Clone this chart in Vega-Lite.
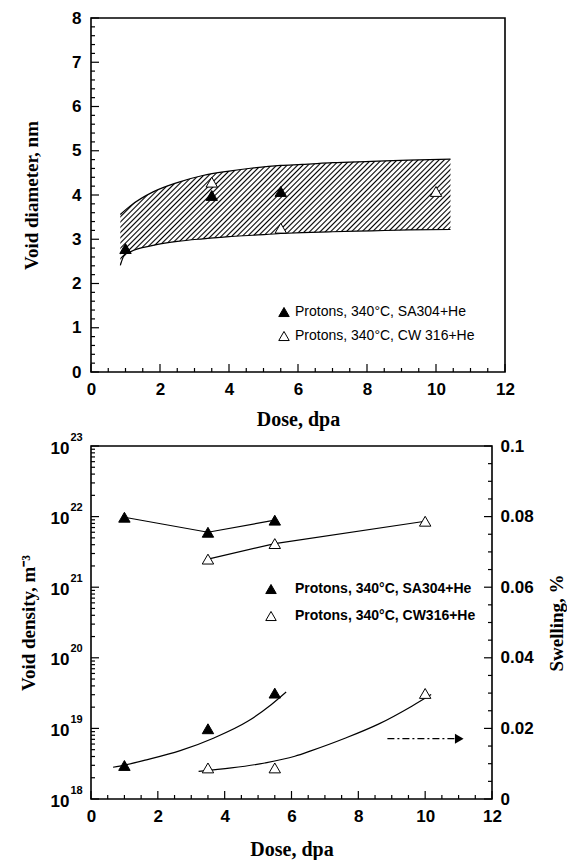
{
  "$schema": "https://vega.github.io/schema/vega-lite/v6.json",
  "background": "white",
  "padding": {"left": 18, "top": 8, "right": 0, "bottom": 0},
  "columns": 1,
  "spacing": 0,
  "resolve": {"scale": {"fill": "independent"}, "legend": {"fill": "independent"}},
  "config": {
    "view": {"stroke": "black", "strokeWidth": 1.6},
    "axis": {
      "grid": false, "domain": false, "ticks": false,
      "labelColor": "black", "labelFont": "Liberation Sans", "labelFontWeight": "bold", "labelFontSize": 17,
      "labelOverlap": false, "labelFlush": false,
      "titleColor": "black", "titleFont": "Liberation Serif", "titleFontWeight": "bold", "titleFontSize": 19
    }
  },
  "datasets": {
    "band": [
      {"dose": 0.85, "lower": 2.41, "upper": 3.56},
      {"dose": 0.95, "lower": 2.62, "upper": 3.63},
      {"dose": 1.15, "lower": 2.72, "upper": 3.76},
      {"dose": 1.8, "lower": 2.86, "upper": 4.07},
      {"dose": 2.5, "lower": 2.95, "upper": 4.28},
      {"dose": 3.24, "lower": 3.01, "upper": 4.44},
      {"dose": 4.0, "lower": 3.06, "upper": 4.54},
      {"dose": 4.68, "lower": 3.09, "upper": 4.61},
      {"dose": 5.5, "lower": 3.13, "upper": 4.67},
      {"dose": 6.12, "lower": 3.15, "upper": 4.69},
      {"dose": 7.0, "lower": 3.17, "upper": 4.73},
      {"dose": 8.13, "lower": 3.19, "upper": 4.76},
      {"dose": 9.2, "lower": 3.21, "upper": 4.79},
      {"dose": 10.42, "lower": 3.22, "upper": 4.81}
    ],
    "diameter": [
      {"dose": 1.0, "diameter": 2.79, "series": "Protons, 340°C, SA304+He"},
      {"dose": 3.5, "diameter": 3.99, "series": "Protons, 340°C, SA304+He"},
      {"dose": 5.5, "diameter": 4.08, "series": "Protons, 340°C, SA304+He"},
      {"dose": 3.5, "diameter": 4.29, "series": "Protons, 340°C, CW 316+He"},
      {"dose": 5.5, "diameter": 3.25, "series": "Protons, 340°C, CW 316+He"},
      {"dose": 10.0, "diameter": 4.08, "series": "Protons, 340°C, CW 316+He"}
    ],
    "density": [
      {"dose": 1.0, "density": 9.8e21, "series": "Protons, 340°C, SA304+He"},
      {"dose": 3.5, "density": 6.0e21, "series": "Protons, 340°C, SA304+He"},
      {"dose": 5.5, "density": 8.9e21, "series": "Protons, 340°C, SA304+He"},
      {"dose": 3.5, "density": 2.5e21, "series": "Protons, 340°C, CW316+He"},
      {"dose": 5.5, "density": 4.15e21, "series": "Protons, 340°C, CW316+He"},
      {"dose": 10.0, "density": 8.6e21, "series": "Protons, 340°C, CW316+He"}
    ],
    "swelling": [
      {"dose": 1.0, "swelling": 0.0095, "series": "Protons, 340°C, SA304+He"},
      {"dose": 3.5, "swelling": 0.0199, "series": "Protons, 340°C, SA304+He"},
      {"dose": 5.5, "swelling": 0.030, "series": "Protons, 340°C, SA304+He"},
      {"dose": 3.5, "swelling": 0.0088, "series": "Protons, 340°C, CW316+He"},
      {"dose": 5.5, "swelling": 0.0088, "series": "Protons, 340°C, CW316+He"},
      {"dose": 10.0, "swelling": 0.0299, "series": "Protons, 340°C, CW316+He"}
    ],
    "swellfit": [
      {"dose": 0.66, "swelling": 0.0090, "series": "SA304 fit"},
      {"dose": 1.0, "swelling": 0.0096, "series": "SA304 fit"},
      {"dose": 1.66, "swelling": 0.0111, "series": "SA304 fit"},
      {"dose": 2.67, "swelling": 0.0137, "series": "SA304 fit"},
      {"dose": 3.68, "swelling": 0.0173, "series": "SA304 fit"},
      {"dose": 4.69, "swelling": 0.0220, "series": "SA304 fit"},
      {"dose": 5.39, "swelling": 0.0267, "series": "SA304 fit"},
      {"dose": 5.84, "swelling": 0.0303, "series": "SA304 fit"},
      {"dose": 3.22, "swelling": 0.0078, "series": "CW316 fit"},
      {"dose": 4.2, "swelling": 0.0088, "series": "CW316 fit"},
      {"dose": 5.2, "swelling": 0.0102, "series": "CW316 fit"},
      {"dose": 6.1, "swelling": 0.0121, "series": "CW316 fit"},
      {"dose": 6.6, "swelling": 0.0137, "series": "CW316 fit"},
      {"dose": 7.6, "swelling": 0.0172, "series": "CW316 fit"},
      {"dose": 8.6, "swelling": 0.0212, "series": "CW316 fit"},
      {"dose": 9.6, "swelling": 0.0263, "series": "CW316 fit"},
      {"dose": 10.18, "swelling": 0.0296, "series": "CW316 fit"}
    ],
    "arrow": [
      {"dose": 8.87, "swelling": 0.0171},
      {"dose": 10.9, "swelling": 0.0171}
    ],
    "arrowhead": [
      {"dose": 11.02, "swelling": 0.0171}
    ],
    "xmajA": [{"v":0,"base":0},{"v":2,"base":0},{"v":4,"base":0},{"v":6,"base":0},{"v":8,"base":0},{"v":10,"base":0},{"v":12,"base":0}],
    "xminA": [{"v":0.5,"base":0},{"v":1,"base":0},{"v":1.5,"base":0},{"v":2.5,"base":0},{"v":3,"base":0},{"v":3.5,"base":0},{"v":4.5,"base":0},{"v":5,"base":0},{"v":5.5,"base":0},{"v":6.5,"base":0},{"v":7,"base":0},{"v":7.5,"base":0},{"v":8.5,"base":0},{"v":9,"base":0},{"v":9.5,"base":0},{"v":10.5,"base":0},{"v":11,"base":0},{"v":11.5,"base":0}],
    "ymajA": [{"v":0,"base":0},{"v":1,"base":0},{"v":2,"base":0},{"v":3,"base":0},{"v":4,"base":0},{"v":5,"base":0},{"v":6,"base":0},{"v":7,"base":0},{"v":8,"base":0}],
    "yminA": [{"v":0.2,"base":0},{"v":0.4,"base":0},{"v":0.6,"base":0},{"v":0.8,"base":0},{"v":1.2,"base":0},{"v":1.4,"base":0},{"v":1.6,"base":0},{"v":1.8,"base":0},{"v":2.2,"base":0},{"v":2.4,"base":0},{"v":2.6,"base":0},{"v":2.8,"base":0},{"v":3.2,"base":0},{"v":3.4,"base":0},{"v":3.6,"base":0},{"v":3.8,"base":0},{"v":4.2,"base":0},{"v":4.4,"base":0},{"v":4.6,"base":0},{"v":4.8,"base":0},{"v":5.2,"base":0},{"v":5.4,"base":0},{"v":5.6,"base":0},{"v":5.8,"base":0},{"v":6.2,"base":0},{"v":6.4,"base":0},{"v":6.6,"base":0},{"v":6.8,"base":0},{"v":7.2,"base":0},{"v":7.4,"base":0},{"v":7.6,"base":0},{"v":7.8,"base":0}],
    "xmajB": [{"v":0,"base":1e18},{"v":2,"base":1e18},{"v":4,"base":1e18},{"v":6,"base":1e18},{"v":8,"base":1e18},{"v":10,"base":1e18},{"v":12,"base":1e18}],
    "xminB": [{"v":0.5,"base":1e18},{"v":1,"base":1e18},{"v":1.5,"base":1e18},{"v":2.5,"base":1e18},{"v":3,"base":1e18},{"v":3.5,"base":1e18},{"v":4.5,"base":1e18},{"v":5,"base":1e18},{"v":5.5,"base":1e18},{"v":6.5,"base":1e18},{"v":7,"base":1e18},{"v":7.5,"base":1e18},{"v":8.5,"base":1e18},{"v":9,"base":1e18},{"v":9.5,"base":1e18},{"v":10.5,"base":1e18},{"v":11,"base":1e18},{"v":11.5,"base":1e18}],
    "ymajB": [{"v":1e18,"base":0},{"v":1e19,"base":0},{"v":1e20,"base":0},{"v":1e21,"base":0},{"v":1e22,"base":0},{"v":1e23,"base":0}],
    "yminB": [{"v":2e18,"base":0},{"v":3e18,"base":0},{"v":4e18,"base":0},{"v":5e18,"base":0},{"v":6e18,"base":0},{"v":7e18,"base":0},{"v":8e18,"base":0},{"v":9e18,"base":0},{"v":2e19,"base":0},{"v":3e19,"base":0},{"v":4e19,"base":0},{"v":5e19,"base":0},{"v":6e19,"base":0},{"v":7e19,"base":0},{"v":8e19,"base":0},{"v":9e19,"base":0},{"v":2e20,"base":0},{"v":3e20,"base":0},{"v":4e20,"base":0},{"v":5e20,"base":0},{"v":6e20,"base":0},{"v":7e20,"base":0},{"v":8e20,"base":0},{"v":9e20,"base":0},{"v":2e21,"base":0},{"v":3e21,"base":0},{"v":4e21,"base":0},{"v":5e21,"base":0},{"v":6e21,"base":0},{"v":7e21,"base":0},{"v":8e21,"base":0},{"v":9e21,"base":0},{"v":2e22,"base":0},{"v":3e22,"base":0},{"v":4e22,"base":0},{"v":5e22,"base":0},{"v":6e22,"base":0},{"v":7e22,"base":0},{"v":8e22,"base":0},{"v":9e22,"base":0}],
    "rmaj": [{"v":0,"base":12},{"v":0.02,"base":12},{"v":0.04,"base":12},{"v":0.06,"base":12},{"v":0.08,"base":12},{"v":0.1,"base":12}],
    "rmin": [{"v":0.005,"base":12},{"v":0.01,"base":12},{"v":0.015,"base":12},{"v":0.025,"base":12},{"v":0.03,"base":12},{"v":0.035,"base":12},{"v":0.045,"base":12},{"v":0.05,"base":12},{"v":0.055,"base":12},{"v":0.065,"base":12},{"v":0.07,"base":12},{"v":0.075,"base":12},{"v":0.085,"base":12},{"v":0.09,"base":12},{"v":0.095,"base":12}]
  },
  "concat": [
    {
      "width": 414,
      "height": 354,
      "resolve": {"axis": {"x": "independent", "y": "independent"}},
      "layer": [
        {
          "data": {"name": "band"},
          "mark": {
            "type": "area", "interpolate": "monotone",
            "fill": {
              "gradient": "linear", "x1": 0, "y1": 0, "x2": 1.198, "y2": 0.385,
              "stops": [
                {"offset":0,"color":"#000"},{"offset":0.0035,"color":"#fff"},{"offset":0.0085,"color":"#fff"},
                {"offset":0.012,"color":"#000"},{"offset":0.0155,"color":"#fff"},{"offset":0.0205,"color":"#fff"},
                {"offset":0.024,"color":"#000"},{"offset":0.0275,"color":"#fff"},{"offset":0.0325,"color":"#fff"},
                {"offset":0.036,"color":"#000"},{"offset":0.0395,"color":"#fff"},{"offset":0.0445,"color":"#fff"},
                {"offset":0.048,"color":"#000"},{"offset":0.0515,"color":"#fff"},{"offset":0.0565,"color":"#fff"},
                {"offset":0.06,"color":"#000"},{"offset":0.0635,"color":"#fff"},{"offset":0.0685,"color":"#fff"},
                {"offset":0.072,"color":"#000"},{"offset":0.0755,"color":"#fff"},{"offset":0.0805,"color":"#fff"},
                {"offset":0.084,"color":"#000"},{"offset":0.0875,"color":"#fff"},{"offset":0.0925,"color":"#fff"},
                {"offset":0.096,"color":"#000"},{"offset":0.0995,"color":"#fff"},{"offset":0.1045,"color":"#fff"},
                {"offset":0.108,"color":"#000"},{"offset":0.1115,"color":"#fff"},{"offset":0.1165,"color":"#fff"},
                {"offset":0.12,"color":"#000"},{"offset":0.1235,"color":"#fff"},{"offset":0.1285,"color":"#fff"},
                {"offset":0.132,"color":"#000"},{"offset":0.1355,"color":"#fff"},{"offset":0.1405,"color":"#fff"},
                {"offset":0.144,"color":"#000"},{"offset":0.1475,"color":"#fff"},{"offset":0.1525,"color":"#fff"},
                {"offset":0.156,"color":"#000"},{"offset":0.1595,"color":"#fff"},{"offset":0.1645,"color":"#fff"},
                {"offset":0.168,"color":"#000"},{"offset":0.1715,"color":"#fff"},{"offset":0.1765,"color":"#fff"},
                {"offset":0.18,"color":"#000"},{"offset":0.1835,"color":"#fff"},{"offset":0.1885,"color":"#fff"},
                {"offset":0.192,"color":"#000"},{"offset":0.1955,"color":"#fff"},{"offset":0.2005,"color":"#fff"},
                {"offset":0.204,"color":"#000"},{"offset":0.2075,"color":"#fff"},{"offset":0.2125,"color":"#fff"},
                {"offset":0.216,"color":"#000"},{"offset":0.2195,"color":"#fff"},{"offset":0.2245,"color":"#fff"},
                {"offset":0.228,"color":"#000"},{"offset":0.2315,"color":"#fff"},{"offset":0.2365,"color":"#fff"},
                {"offset":0.24,"color":"#000"},{"offset":0.2435,"color":"#fff"},{"offset":0.2485,"color":"#fff"},
                {"offset":0.252,"color":"#000"},{"offset":0.2555,"color":"#fff"},{"offset":0.2605,"color":"#fff"},
                {"offset":0.264,"color":"#000"},{"offset":0.2675,"color":"#fff"},{"offset":0.2725,"color":"#fff"},
                {"offset":0.276,"color":"#000"},{"offset":0.2795,"color":"#fff"},{"offset":0.2845,"color":"#fff"},
                {"offset":0.288,"color":"#000"},{"offset":0.2915,"color":"#fff"},{"offset":0.2965,"color":"#fff"},
                {"offset":0.3,"color":"#000"},{"offset":0.3035,"color":"#fff"},{"offset":0.3085,"color":"#fff"},
                {"offset":0.312,"color":"#000"},{"offset":0.3155,"color":"#fff"},{"offset":0.3205,"color":"#fff"},
                {"offset":0.324,"color":"#000"},{"offset":0.3275,"color":"#fff"},{"offset":0.3325,"color":"#fff"},
                {"offset":0.336,"color":"#000"},{"offset":0.3395,"color":"#fff"},{"offset":0.3445,"color":"#fff"},
                {"offset":0.348,"color":"#000"},{"offset":0.3515,"color":"#fff"},{"offset":0.3565,"color":"#fff"},
                {"offset":0.36,"color":"#000"},{"offset":0.3635,"color":"#fff"},{"offset":0.3685,"color":"#fff"},
                {"offset":0.372,"color":"#000"},{"offset":0.3755,"color":"#fff"},{"offset":0.3805,"color":"#fff"},
                {"offset":0.384,"color":"#000"},{"offset":0.3875,"color":"#fff"},{"offset":0.3925,"color":"#fff"},
                {"offset":0.396,"color":"#000"},{"offset":0.3995,"color":"#fff"},{"offset":0.4045,"color":"#fff"},
                {"offset":0.408,"color":"#000"},{"offset":0.4115,"color":"#fff"},{"offset":0.4165,"color":"#fff"},
                {"offset":0.42,"color":"#000"},{"offset":0.4235,"color":"#fff"},{"offset":0.4285,"color":"#fff"},
                {"offset":0.432,"color":"#000"},{"offset":0.4355,"color":"#fff"},{"offset":0.4405,"color":"#fff"},
                {"offset":0.444,"color":"#000"},{"offset":0.4475,"color":"#fff"},{"offset":0.4525,"color":"#fff"},
                {"offset":0.456,"color":"#000"},{"offset":0.4595,"color":"#fff"},{"offset":0.4645,"color":"#fff"},
                {"offset":0.468,"color":"#000"},{"offset":0.4715,"color":"#fff"},{"offset":0.4765,"color":"#fff"},
                {"offset":0.48,"color":"#000"},{"offset":0.4835,"color":"#fff"},{"offset":0.4885,"color":"#fff"},
                {"offset":0.492,"color":"#000"},{"offset":0.4955,"color":"#fff"},{"offset":0.5005,"color":"#fff"},
                {"offset":0.504,"color":"#000"},{"offset":0.5075,"color":"#fff"},{"offset":0.5125,"color":"#fff"},
                {"offset":0.516,"color":"#000"},{"offset":0.5195,"color":"#fff"},{"offset":0.5245,"color":"#fff"},
                {"offset":0.528,"color":"#000"},{"offset":0.5315,"color":"#fff"},{"offset":0.5365,"color":"#fff"},
                {"offset":0.54,"color":"#000"},{"offset":0.5435,"color":"#fff"},{"offset":0.5485,"color":"#fff"},
                {"offset":0.552,"color":"#000"},{"offset":0.5555,"color":"#fff"},{"offset":0.5605,"color":"#fff"},
                {"offset":0.564,"color":"#000"},{"offset":0.5675,"color":"#fff"},{"offset":0.5725,"color":"#fff"},
                {"offset":0.576,"color":"#000"},{"offset":0.5795,"color":"#fff"},{"offset":0.5845,"color":"#fff"},
                {"offset":0.588,"color":"#000"},{"offset":0.5915,"color":"#fff"},{"offset":0.5965,"color":"#fff"},
                {"offset":0.6,"color":"#000"},{"offset":0.6035,"color":"#fff"},{"offset":0.6085,"color":"#fff"},
                {"offset":0.612,"color":"#000"},{"offset":0.6155,"color":"#fff"},{"offset":0.6205,"color":"#fff"},
                {"offset":0.624,"color":"#000"},{"offset":0.6275,"color":"#fff"},{"offset":0.6325,"color":"#fff"},
                {"offset":0.636,"color":"#000"},{"offset":0.6395,"color":"#fff"},{"offset":0.6445,"color":"#fff"},
                {"offset":0.648,"color":"#000"},{"offset":0.6515,"color":"#fff"},{"offset":0.6565,"color":"#fff"},
                {"offset":0.66,"color":"#000"},{"offset":0.6635,"color":"#fff"},{"offset":0.6685,"color":"#fff"},
                {"offset":0.672,"color":"#000"},{"offset":0.6755,"color":"#fff"},{"offset":0.6805,"color":"#fff"},
                {"offset":0.684,"color":"#000"},{"offset":0.6875,"color":"#fff"},{"offset":0.6925,"color":"#fff"},
                {"offset":0.696,"color":"#000"},{"offset":0.6995,"color":"#fff"},{"offset":0.7045,"color":"#fff"},
                {"offset":0.708,"color":"#000"},{"offset":0.7115,"color":"#fff"},{"offset":0.7165,"color":"#fff"},
                {"offset":0.72,"color":"#000"},{"offset":0.7235,"color":"#fff"},{"offset":0.7285,"color":"#fff"},
                {"offset":0.732,"color":"#000"},{"offset":0.7355,"color":"#fff"},{"offset":0.7405,"color":"#fff"},
                {"offset":0.744,"color":"#000"},{"offset":0.7475,"color":"#fff"},{"offset":0.7525,"color":"#fff"},
                {"offset":0.756,"color":"#000"},{"offset":0.7595,"color":"#fff"},{"offset":0.7645,"color":"#fff"},
                {"offset":0.768,"color":"#000"},{"offset":0.7715,"color":"#fff"},{"offset":0.7765,"color":"#fff"},
                {"offset":0.78,"color":"#000"},{"offset":0.7835,"color":"#fff"},{"offset":0.7885,"color":"#fff"},
                {"offset":0.792,"color":"#000"},{"offset":0.7955,"color":"#fff"},{"offset":0.8005,"color":"#fff"},
                {"offset":0.804,"color":"#000"},{"offset":0.8075,"color":"#fff"},{"offset":0.8125,"color":"#fff"},
                {"offset":0.816,"color":"#000"},{"offset":0.8195,"color":"#fff"},{"offset":0.8245,"color":"#fff"},
                {"offset":0.828,"color":"#000"},{"offset":0.8315,"color":"#fff"},{"offset":0.8365,"color":"#fff"},
                {"offset":0.84,"color":"#000"},{"offset":0.8435,"color":"#fff"},{"offset":0.8485,"color":"#fff"},
                {"offset":0.852,"color":"#000"},{"offset":0.8555,"color":"#fff"},{"offset":0.8605,"color":"#fff"},
                {"offset":0.864,"color":"#000"},{"offset":0.8675,"color":"#fff"},{"offset":0.8725,"color":"#fff"},
                {"offset":0.876,"color":"#000"},{"offset":0.8795,"color":"#fff"},{"offset":0.8845,"color":"#fff"},
                {"offset":0.888,"color":"#000"},{"offset":0.8915,"color":"#fff"},{"offset":0.8965,"color":"#fff"},
                {"offset":0.9,"color":"#000"},{"offset":0.9035,"color":"#fff"},{"offset":0.9085,"color":"#fff"},
                {"offset":0.912,"color":"#000"},{"offset":0.9155,"color":"#fff"},{"offset":0.9205,"color":"#fff"},
                {"offset":0.924,"color":"#000"},{"offset":0.9275,"color":"#fff"},{"offset":0.9325,"color":"#fff"},
                {"offset":0.936,"color":"#000"},{"offset":0.9395,"color":"#fff"},{"offset":0.9445,"color":"#fff"},
                {"offset":0.948,"color":"#000"},{"offset":0.9515,"color":"#fff"},{"offset":0.9565,"color":"#fff"},
                {"offset":0.96,"color":"#000"},{"offset":0.9635,"color":"#fff"},{"offset":0.9685,"color":"#fff"},
                {"offset":0.972,"color":"#000"},{"offset":0.9755,"color":"#fff"},{"offset":0.9805,"color":"#fff"},
                {"offset":0.984,"color":"#000"},{"offset":0.9875,"color":"#fff"},{"offset":0.9925,"color":"#fff"},
                {"offset":0.996,"color":"#000"},{"offset":0.9995,"color":"#fff"}
              ]
            }
          },
          "encoding": {
            "x": {
              "field": "dose", "type": "quantitative", "title": "Dose, dpa",
              "scale": {"domain": [0, 12], "nice": false, "zero": false},
              "axis": {"orient": "bottom", "values": [0,2,4,6,8,10,12], "labelPadding": 9, "titlePadding": 12, "titleFontSize": 20}
            },
            "y": {
              "field": "lower", "type": "quantitative", "title": "Void diameter, nm",
              "scale": {"domain": [0, 8], "nice": false},
              "axis": {"orient": "left", "values": [0,1,2,3,4,5,6,7,8], "labelPadding": 10, "titlePadding": 30}
            },
            "y2": {"field": "upper"}
          }
        },
        {
          "data": {"name": "band"},
          "mark": {"type": "line", "interpolate": "monotone", "color": "black", "strokeWidth": 1.2},
          "encoding": {
            "x": {"field": "dose", "type": "quantitative", "axis": null},
            "y": {"field": "upper", "type": "quantitative", "axis": null}
          }
        },
        {
          "data": {"name": "band"},
          "mark": {"type": "line", "interpolate": "monotone", "color": "black", "strokeWidth": 1.2},
          "encoding": {
            "x": {"field": "dose", "type": "quantitative", "axis": null},
            "y": {"field": "lower", "type": "quantitative", "axis": null}
          }
        },
        {
          "data": {"name": "xmajA"},
          "mark": {"type": "point", "shape": "stroke", "angle": 90, "filled": false, "stroke": "black", "strokeWidth": 1.2, "size": 64, "opacity": 1, "yOffset": -4},
          "encoding": {
            "x": {"field": "v", "type": "quantitative", "axis": null},
            "y": {"field": "base", "type": "quantitative", "axis": null}
          }
        },
        {
          "data": {"name": "xminA"},
          "mark": {"type": "point", "shape": "stroke", "angle": 90, "filled": false, "stroke": "black", "strokeWidth": 1.2, "size": 16, "opacity": 1, "yOffset": -2},
          "encoding": {
            "x": {"field": "v", "type": "quantitative", "axis": null},
            "y": {"field": "base", "type": "quantitative", "axis": null}
          }
        },
        {
          "data": {"name": "ymajA"},
          "mark": {"type": "point", "shape": "stroke", "filled": false, "stroke": "black", "strokeWidth": 1.2, "size": 64, "opacity": 1, "xOffset": 4},
          "encoding": {
            "y": {"field": "v", "type": "quantitative", "axis": null},
            "x": {"field": "base", "type": "quantitative", "axis": null}
          }
        },
        {
          "data": {"name": "yminA"},
          "mark": {"type": "point", "shape": "stroke", "filled": false, "stroke": "black", "strokeWidth": 1.2, "size": 16, "opacity": 1, "xOffset": 2},
          "encoding": {
            "y": {"field": "v", "type": "quantitative", "axis": null},
            "x": {"field": "base", "type": "quantitative", "axis": null}
          }
        },
        {
          "data": {"name": "diameter"},
          "mark": {"type": "point", "shape": "triangle-up", "filled": true, "stroke": "black", "strokeWidth": 1, "size": 130, "opacity": 1},
          "encoding": {
            "x": {"field": "dose", "type": "quantitative", "axis": null},
            "y": {"field": "diameter", "type": "quantitative", "axis": null},
            "fill": {
              "field": "series", "type": "nominal",
              "scale": {"domain": ["Protons, 340°C, SA304+He", "Protons, 340°C, CW 316+He"], "range": ["black", "white"]},
              "legend": {
                "orient": "none", "legendX": 186, "legendY": 287, "title": null, "padding": 0,
                "symbolType": "triangle-up", "symbolSize": 110, "symbolStrokeColor": "black", "symbolStrokeWidth": 1,
                "labelFont": "Liberation Sans", "labelFontSize": 14, "labelFontWeight": "normal", "labelColor": "black",
                "labelOffset": 4, "rowPadding": 10, "labelLimit": 300
              }
            }
          }
        },
        {
          "mark": {"type": "text", "font": "Liberation Serif", "fontWeight": "bold", "fontSize": 20, "color": "black"},
          "encoding": {
            "x": {"datum": 1.06, "type": "quantitative", "axis": null},
            "y": {"datum": 7.41, "type": "quantitative", "axis": null},
            "text": {"value": "(a)"}
          }
        }
      ]
    },
    {
      "width": 401,
      "height": 353,
      "resolve": {"scale": {"y": "independent"}, "axis": {"x": "independent"}},
      "layer": [
        {
          "resolve": {"axis": {"x": "independent", "y": "independent"}},
          "layer": [
            {
              "data": {"name": "density"},
              "mark": {"type": "line", "color": "black", "strokeWidth": 1.2},
              "encoding": {
                "x": {
                  "field": "dose", "type": "quantitative", "title": "Dose, dpa",
                  "scale": {"domain": [0, 12], "nice": false, "zero": false},
                  "axis": {"orient": "bottom", "values": [0,2,4,6,8,10,12], "labelPadding": 9, "titlePadding": 15, "titleFontSize": 20}
                },
                "y": {
                  "field": "density", "type": "quantitative", "title": "Void density, m⁻³",
                  "scale": {"type": "log", "domain": [1e18, 1e23], "nice": false},
                  "axis": {
                    "orient": "left", "values": [1e18,1e19,1e20,1e21,1e22,1e23],
                    "labelExpr": "'10'", "labelOffset": 2, "labelPadding": 22, "titlePadding": 12
                  }
                },
                "detail": {"field": "series", "type": "nominal"}
              }
            },
            {
              "data": {"name": "xmajB"},
              "mark": {"type": "point", "shape": "stroke", "angle": 90, "filled": false, "stroke": "black", "strokeWidth": 1.2, "size": 64, "opacity": 1, "yOffset": -4},
              "encoding": {
                "x": {"field": "v", "type": "quantitative", "axis": null},
                "y": {"field": "base", "type": "quantitative", "axis": null}
              }
            },
            {
              "data": {"name": "xminB"},
              "mark": {"type": "point", "shape": "stroke", "angle": 90, "filled": false, "stroke": "black", "strokeWidth": 1.2, "size": 16, "opacity": 1, "yOffset": -2},
              "encoding": {
                "x": {"field": "v", "type": "quantitative", "axis": null},
                "y": {"field": "base", "type": "quantitative", "axis": null}
              }
            },
            {
              "data": {"name": "ymajB"},
              "mark": {"type": "point", "shape": "stroke", "filled": false, "stroke": "black", "strokeWidth": 1.2, "size": 64, "opacity": 1, "xOffset": 4},
              "encoding": {
                "y": {"field": "v", "type": "quantitative", "axis": null},
                "x": {"field": "base", "type": "quantitative", "axis": null}
              }
            },
            {
              "data": {"name": "yminB"},
              "mark": {"type": "point", "shape": "stroke", "filled": false, "stroke": "black", "strokeWidth": 1.2, "size": 16, "opacity": 1, "xOffset": 2},
              "encoding": {
                "y": {"field": "v", "type": "quantitative", "axis": null},
                "x": {"field": "base", "type": "quantitative", "axis": null}
              }
            },
            {
              "data": {"name": "density"},
              "mark": {"type": "point", "shape": "triangle-up", "filled": true, "stroke": "black", "strokeWidth": 1, "size": 130, "opacity": 1},
              "encoding": {
                "x": {"field": "dose", "type": "quantitative", "axis": null},
                "y": {"field": "density", "type": "quantitative", "axis": null},
                "fill": {
                  "field": "series", "type": "nominal",
                  "scale": {"domain": ["Protons, 340°C, SA304+He", "Protons, 340°C, CW316+He"], "range": ["black", "white"]},
                  "legend": {
                    "orient": "none", "legendX": 173, "legendY": 136, "title": null, "padding": 0,
                    "symbolType": "triangle-up", "symbolSize": 110, "symbolStrokeColor": "black", "symbolStrokeWidth": 1,
                    "labelFont": "Liberation Sans", "labelFontSize": 14, "labelFontWeight": "bold", "labelColor": "black",
                    "labelOffset": 17, "rowPadding": 13, "labelLimit": 300
                  }
                }
              }
            },
            {
              "mark": {"type": "text", "font": "Liberation Serif", "fontWeight": "bold", "fontSize": 20, "color": "black"},
              "encoding": {
                "x": {"datum": 0.88, "type": "quantitative", "axis": null},
                "y": {
                  "datum": 4.5e22, "type": "quantitative",
                  "axis": {
                    "orient": "left", "values": [1e18,1e19,1e20,1e21,1e22,1e23], "title": null,
                    "labelExpr": "datum.value == 1e18 ? '18' : datum.value == 1e19 ? '19' : datum.value == 1e20 ? '20' : datum.value == 1e21 ? '21' : datum.value == 1e22 ? '22' : '23'",
                    "labelAlign": "left", "labelFontSize": 11, "labelOffset": -9, "labelPadding": 21
                  }
                },
                "text": {"value": "(b)"}
              }
            }
          ]
        },
        {
          "resolve": {"axis": {"x": "independent", "y": "independent"}},
          "layer": [
            {
              "data": {"name": "swellfit"},
              "mark": {"type": "line", "interpolate": "monotone", "color": "black", "strokeWidth": 1.2},
              "encoding": {
                "x": {"field": "dose", "type": "quantitative", "axis": null},
                "y": {
                  "field": "swelling", "type": "quantitative", "title": "Swelling, %",
                  "scale": {"domain": [0, 0.1], "nice": false},
                  "axis": {
                    "orient": "right", "values": [0,0.02,0.04,0.06,0.08,0.1],
                    "labelExpr": "'' + datum.value", "labelPadding": 8, "titlePadding": 14, "titleAngle": 270, "titleBaseline": "top"
                  }
                },
                "detail": {"field": "series", "type": "nominal"}
              }
            },
            {
              "data": {"name": "rmaj"},
              "mark": {"type": "point", "shape": "stroke", "filled": false, "stroke": "black", "strokeWidth": 1.2, "size": 64, "opacity": 1, "xOffset": -4},
              "encoding": {
                "y": {"field": "v", "type": "quantitative", "axis": null},
                "x": {"field": "base", "type": "quantitative", "axis": null}
              }
            },
            {
              "data": {"name": "rmin"},
              "mark": {"type": "point", "shape": "stroke", "filled": false, "stroke": "black", "strokeWidth": 1.2, "size": 16, "opacity": 1, "xOffset": -2},
              "encoding": {
                "y": {"field": "v", "type": "quantitative", "axis": null},
                "x": {"field": "base", "type": "quantitative", "axis": null}
              }
            },
            {
              "data": {"name": "swelling"},
              "mark": {"type": "point", "shape": "triangle-up", "filled": true, "stroke": "black", "strokeWidth": 1, "size": 130, "opacity": 1},
              "encoding": {
                "x": {"field": "dose", "type": "quantitative", "axis": null},
                "y": {"field": "swelling", "type": "quantitative", "axis": null},
                "fill": {"field": "series", "type": "nominal"}
              }
            },
            {
              "data": {"name": "arrow"},
              "mark": {"type": "line", "color": "black", "strokeWidth": 1.2, "strokeDash": [7, 3, 2, 3]},
              "encoding": {
                "x": {"field": "dose", "type": "quantitative", "axis": null},
                "y": {"field": "swelling", "type": "quantitative", "axis": null}
              }
            },
            {
              "data": {"name": "arrowhead"},
              "mark": {"type": "point", "shape": "triangle-right", "filled": true, "color": "black", "size": 100, "opacity": 1},
              "encoding": {
                "x": {"field": "dose", "type": "quantitative", "axis": null},
                "y": {"field": "swelling", "type": "quantitative", "axis": null}
              }
            }
          ]
        }
      ]
    }
  ]
}
